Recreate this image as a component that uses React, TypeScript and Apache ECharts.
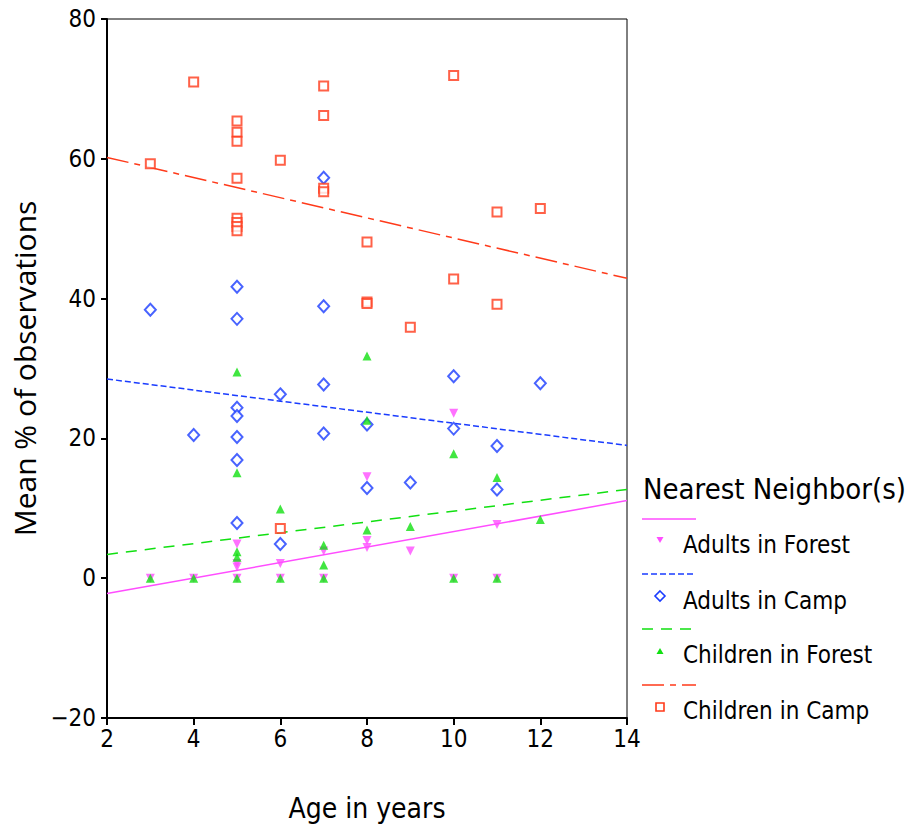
import React, { useEffect, useRef } from "react";
import * as echarts from "echarts";

// ---- Data ----
const adultsForestAge = [3, 4, 5, 5, 5, 5, 6, 6, 7, 7, 8, 8, 8, 9, 10, 10, 11, 11];
const adultsForestPct = [0, 0, 4.9, 2.1, 1.6, 0, 2.1, 0, 3.9, 0, 14.5, 5.4, 4.4, 3.9, 23.6, 0, 7.7, 0];

const adultsCampAge = [3, 4, 5, 5, 5, 5, 5, 5, 5, 6, 6, 7, 7, 7, 7, 8, 8, 9, 10, 10, 11, 11, 12];
const adultsCampPct = [38.4, 20.5, 41.7, 37.1, 24.4, 23.2, 20.2, 16.9, 7.9, 26.3, 4.9, 57.3, 38.9, 27.7, 20.7, 22.0, 12.9, 13.7, 28.9, 21.4, 18.9, 12.7, 27.9];

const childrenForestAge = [3, 4, 5, 5, 5, 5, 5, 6, 6, 7, 7, 7, 8, 8, 8, 9, 10, 10, 11, 11, 12];
const childrenForestPct = [0, 0, 29.5, 15.1, 3.8, 3.0, 0, 9.9, 0, 4.7, 1.9, 0, 31.8, 22.6, 6.9, 7.4, 17.8, 0, 14.4, 0, 8.4];

const childrenCampAge = [3, 4, 5, 5, 5, 5, 5, 5, 5, 5, 6, 6, 7, 7, 7, 7, 8, 8, 8, 9, 10, 10, 11, 11, 12];
const childrenCampPct = [59.3, 71.0, 65.4, 63.8, 62.5, 57.2, 51.5, 50.9, 50.3, 49.7, 59.8, 7.1, 70.4, 66.2, 55.8, 55.3, 48.1, 39.5, 39.3, 35.9, 71.9, 42.8, 52.4, 39.2, 52.9];

// Fit lines (end points at age 2 and 14)
const fitAges = [2, 14];
const fitAdultsForest = [-2.2, 11.1];
const fitAdultsCamp = [28.5, 19.0];
const fitChildrenForest = [3.4, 12.7];
const fitChildrenCamp = [60.2, 42.9];

const seriesNames = ["Adults in Forest", "Adults in Camp", "Children in Forest", "Children in Camp"];
const legendTitle = "Nearest Neighbor(s)";
const xTitle = "Age in years";
const yTitle = "Mean % of observations";

const COLORS = ["#ff4dff", "#1a3cff", "#11e011", "#ff3a1a"];
const DASHES: any[] = ["solid", [6, 3], [11, 8], [22, 6, 6, 6]];

const zip = (a: number[], b: number[]) => a.map((v, i) => [v, b[i]]);

const LEGEND_FONT = "'DejaVu Sans Condensed', 'DejaVu Sans', sans-serif";

export default function App() {
  const ref = useRef<HTMLDivElement>(null);
  useEffect(() => {
    if (!ref.current) return;
    const chart = echarts.init(ref.current, null, { renderer: "svg" });

    const fits = [fitAdultsForest, fitAdultsCamp, fitChildrenForest, fitChildrenCamp];
    const pts = [
      zip(adultsForestAge, adultsForestPct),
      zip(adultsCampAge, adultsCampPct),
      zip(childrenForestAge, childrenForestPct),
      zip(childrenCampAge, childrenCampPct),
    ];
    const symbols = ["triangle", "emptyDiamond", "triangle", "emptyRect"];
    const sizes: any[] = [9, [11, 12], 9, 9];
    const rotates = [180, 0, 0, 0];

    const lineSeries = fits.map((f, i) => ({
      type: "line",
      name: seriesNames[i] + " fit",
      data: zip(fitAges, f),
      symbol: "none",
      lineStyle: { color: COLORS[i], width: 1.5, type: DASHES[i] },
      z: 2,
      silent: true,
    }));
    const scatterSeries = pts.map((p, i) => ({
      type: "scatter",
      name: seriesNames[i],
      data: p,
      symbol: symbols[i],
      symbolSize: sizes[i],
      symbolRotate: rotates[i],
      itemStyle: { color: COLORS[i], borderColor: COLORS[i], borderWidth: i === 1 || i === 3 ? 1.8 : 0 },
      z: 3 + (i === 3 ? 1 : 0),
    }));

    // Legend drawn as graphic
    const lx0 = 642, lx1 = 696, mx = 660, tx = 683;
    const lineYs = [519, 574, 629, 685];
    const textYs = [545, 601, 655, 711];
    const markYs = [540, 596, 651, 707];
    const graphic: any[] = [
      {
        type: "text",
        left: 643,
        top: 474,
        style: { text: legendTitle, font: `29px ${LEGEND_FONT}`, fill: "#000" },
      },
    ];
    seriesNames.forEach((n, i) => {
      graphic.push({
        type: "line",
        shape: { x1: lx0, y1: lineYs[i], x2: lx1, y2: lineYs[i] },
        style: { stroke: COLORS[i], lineWidth: 1.5, lineDash: DASHES[i] === "solid" ? null : DASHES[i] },
      });
      graphic.push({
        type: "text",
        x: tx,
        y: textYs[i],
        style: { text: n, font: `24px ${LEGEND_FONT}`, fill: "#000", verticalAlign: "middle" },
      });
      const y = markYs[i];
      if (i === 0) {
        graphic.push({ type: "polygon", shape: { points: [[mx - 3.5, y - 3], [mx + 3.5, y - 3], [mx, y + 3]] }, style: { fill: COLORS[0] } });
      } else if (i === 1) {
        graphic.push({ type: "polygon", shape: { points: [[mx, y - 5], [mx + 5, y], [mx, y + 5], [mx - 5, y]] }, style: { fill: "#fff", stroke: COLORS[1], lineWidth: 1.6 } });
      } else if (i === 2) {
        graphic.push({ type: "polygon", shape: { points: [[mx - 3.5, y + 3], [mx + 3.5, y + 3], [mx, y - 3]] }, style: { fill: COLORS[2] } });
      } else {
        graphic.push({ type: "rect", shape: { x: mx - 4, y: y - 4, width: 8, height: 8 }, style: { fill: "#fff", stroke: COLORS[3], lineWidth: 1.6 } });
      }
    });

    chart.setOption({
      animation: false,
      backgroundColor: "#fff",
      grid: {
        left: 107,
        top: 19,
        width: 520,
        height: 699,
        show: true,
        borderColor: "#000",
        borderWidth: 1,
        backgroundColor: "transparent",
        containLabel: false,
        outerBoundsMode: "none",
      },
      xAxis: {
        type: "value",
        min: 2,
        max: 14,
        interval: 2,
        name: xTitle,
        nameLocation: "middle",
        nameGap: 76,
        nameTextStyle: { fontFamily: LEGEND_FONT, fontSize: 28, color: "#000" },
        axisLine: { show: true, onZero: false, lineStyle: { color: "#000", width: 2 } },
        axisTick: { show: true, length: 7, lineStyle: { color: "#000", width: 2 } },
        axisLabel: { fontFamily: LEGEND_FONT, fontSize: 24, color: "#000", margin: 9 },
        splitLine: { show: false },
      },
      yAxis: {
        type: "value",
        min: -20,
        max: 80,
        interval: 20,
        name: yTitle,
        nameLocation: "middle",
        nameGap: 68,
        nameTextStyle: { fontFamily: "'Open Sans', sans-serif", fontSize: 30, color: "#000" },
        axisLine: { show: true, onZero: false, lineStyle: { color: "#000", width: 2 } },
        axisTick: { show: true, length: 6, lineStyle: { color: "#000", width: 2 } },
        axisLabel: {
          fontFamily: LEGEND_FONT,
          fontSize: 24,
          color: "#000",
          margin: 11,
          formatter: (v: number) => (v < 0 ? "\u2212" + Math.abs(v) : String(v)),
        },
        splitLine: { show: false },
      },
      series: [...lineSeries, ...scatterSeries],
      graphic,
    });
    return () => chart.dispose();
  }, []);
  return (
    <div
      ref={ref}
      style={{ position: "fixed", left: 0, top: 0, width: 911, height: 831, background: "#fff" }}
    />
  );
}
